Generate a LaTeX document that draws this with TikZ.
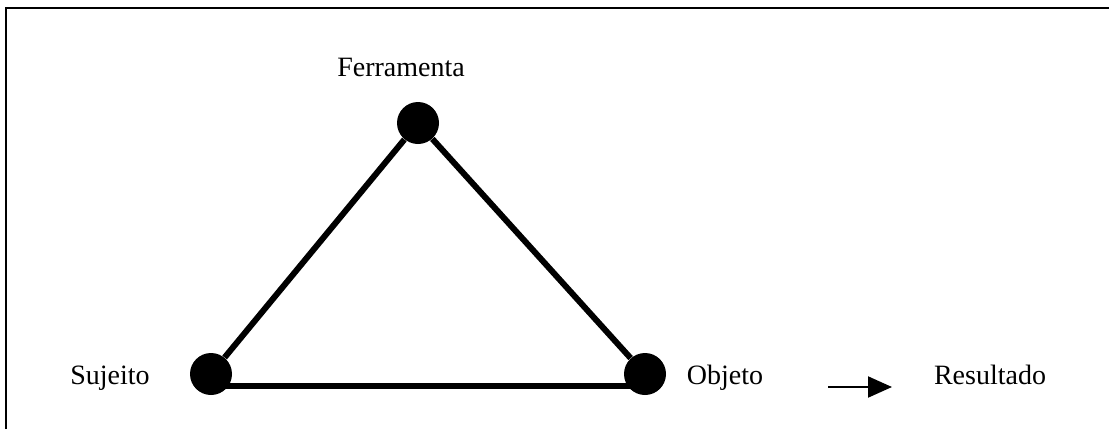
\documentclass[tikz,border=0pt]{standalone}
\usepackage{fontspec}
\setmainfont{Liberation Serif}
\usetikzlibrary{arrows.meta}

\begin{document}
\begin{tikzpicture}[x = 0.5pt, y = -0.5pt, font = \fontsize{14}{16}\selectfont]
        \tikzset{dot/.style = {circle, fill, inner sep = 0pt, minimum size = 21pt},
                 side/.style = {line width = 3pt}}
        \useasboundingbox (0, 0) rectangle (1109, 429);
        \draw [line width = 1pt] (6, 429) -- (6, 8) -- (1109, 8);

        \node [dot] (ferr) at (418, 123) {};
        \node [dot] (suj) at (211, 374) {};
        \node [dot] (obj) at (645, 374) {};

        \node [anchor = base] (ferrlabel) at (401, 76) {Ferramenta};
        \node [anchor = base] (sujlabel) at (110, 384) {Sujeito};
        \node [anchor = base] (objlabel) at (725, 384) {Objeto};
        \node [anchor = base] (reslabel) at (990, 384) {Resultado};

        \coordinate (sujfoot) at (211, 386);
        \coordinate (objfoot) at (645, 386);
        \coordinate (arrtail) at (828, 387);
        \coordinate (arrhead) at (892, 387);

        \draw [side] (ferr) -- (suj);
        \draw [side] (ferr) -- (obj);
        \draw [side] (sujfoot) -- (objfoot);

        \draw [-{Triangle[length = 12pt, width = 10.5pt]}, line width = 1pt] (arrtail) -- (arrhead);
    \end{tikzpicture}
\end{document}
